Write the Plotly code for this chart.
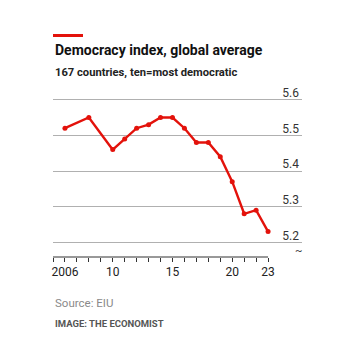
import plotly.graph_objects as go

years = [2006, 2008, 2010, 2011, 2012, 2013, 2014, 2015, 2016, 2017, 2018, 2019, 2020, 2021, 2022, 2023]
index_values = [5.52, 5.55, 5.46, 5.49, 5.52, 5.53, 5.55, 5.55, 5.52, 5.48, 5.48, 5.44, 5.37, 5.28, 5.29, 5.23]

x_tick_vals = list(range(2005, 2024))
x_tick_labels = {2006: "2006", 2010: "10", 2015: "15", 2020: "20", 2023: "23"}
y_tick_vals = [5.2, 5.3, 5.4, 5.5, 5.6]
y_tick_text = ["5.2", "5.3", "5.4", "5.5", "5.6"]

RED = "#E3120B"
FONT = "Roboto"
GRID = "#b0b0b0"

W, H = 350, 354
L, R, T, B = 53, 48, 84, 97
plot_h = H - T - B
PX_PER_UNIT = 356.5
y_top = 5.6 + (99.7 - T) / PX_PER_UNIT
y_bot = 5.2 - ((H - B) - 242.3) / PX_PER_UNIT

def py(pix):
    return (H - B - pix) / plot_h

fig = go.Figure()
fig.add_trace(go.Scatter(
    x=years, y=index_values, mode="lines+markers",
    line=dict(color=RED, width=2.4),
    marker=dict(color=RED, size=5),
    hoverinfo="skip", showlegend=False,
))

fig.update_layout(
    width=W, height=H,
    margin=dict(l=L, r=R, t=T, b=B, pad=0),
    paper_bgcolor="white", plot_bgcolor="white",
    font=dict(family=FONT, color="#333333"),
    xaxis=dict(
        range=[2005, 2025.84],
        tickmode="array",
        tickvals=x_tick_vals,
        ticktext=[x_tick_labels.get(v, "") for v in x_tick_vals],
        ticks="outside", ticklen=4, tickwidth=1, tickcolor="#333333",
        showline=False, showgrid=False, zeroline=False,
        tickfont=dict(size=12, color="#222222"),
    ),
    yaxis=dict(
        range=[y_bot, y_top],
        side="right",
        tickmode="array", tickvals=y_tick_vals, ticktext=y_tick_text,
        ticklabelposition="inside",
        ticklabelshift=-7,
        ticks="",
        showgrid=True, gridcolor=GRID, gridwidth=1.3,
        zeroline=False, showline=False,
        tickfont=dict(size=12, color="#333333"),
    ),
    annotations=[
        dict(text="<b>Democracy index, global average</b>", xref="paper", yref="paper",
             x=0, y=py(50.5), xanchor="left", yanchor="middle", showarrow=False,
             font=dict(size=14, color="#111111", family=FONT)),
        dict(text="<b>167 countries, ten=most democratic</b>", xref="paper", yref="paper",
             x=0, y=py(72), xanchor="left", yanchor="middle", showarrow=False,
             font=dict(size=11.2, color="#222222", family=FONT)),
        dict(text="Source: EIU", xref="paper", yref="paper",
             x=0, y=py(302.5), xanchor="left", yanchor="middle", showarrow=False,
             font=dict(size=11.5, color="#8a8a8a", family=FONT)),
        dict(text="<b>IMAGE: THE ECONOMIST</b>", xref="paper", yref="paper",
             x=0, y=py(323.5), xanchor="left", yanchor="middle", showarrow=False,
             font=dict(size=9.5, color="#555555", family=FONT)),
        dict(text="~", xref="paper", yref="paper",
             x=(298 - L) / (W - L - R), y=py(250), xanchor="center", yanchor="middle",
             showarrow=False, font=dict(size=11, color="#333333", family=FONT)),
    ],
)

fig.add_shape(type="rect", xref="paper", yref="paper",
              x0=0, x1=30 / 249, y0=py(37), y1=py(34),
              fillcolor=RED, line=dict(width=0))
fig.add_shape(type="line", xref="x", yref="paper",
              x0=x_tick_vals[0], x1=x_tick_vals[-1], y0=0, y1=0,
              line=dict(color="#333333", width=1))

fig.write_html("out.html")
